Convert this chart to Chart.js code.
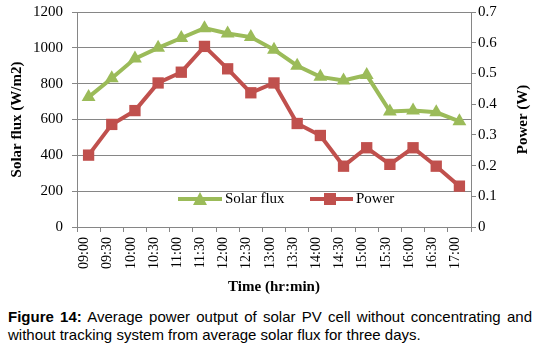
<!DOCTYPE html>
<html>
<head>
<meta charset="utf-8">
<script src="https://cdn.jsdelivr.net/npm/chart.js@4"></script>
<style>
  html, body { margin: 0; padding: 0; background: #fff; }
  #wrap { position: relative; width: 536px; height: 348px; }
  #chart-box { position: absolute; left: 0; top: 0; width: 536px; height: 300px; }
  #caption {
    position: absolute; left: 8px; top: 308px; width: 524px;
    font-family: "Liberation Sans", Arial, sans-serif; font-size: 15px;
    line-height: 18px; color: #000; text-align: justify;
  }
</style>
</head>
<body>
<div id="wrap">
  <div id="chart-box"><canvas id="chart" width="536" height="300"></canvas></div>
  <div id="caption"><b>Figure 14:</b> Average power output of solar PV cell without concentrating and without tracking system from average solar flux for three days.</div>
</div>
<script>
// data
const times = ["09:00", "09:30", "10:00", "10:30", "11:00", "11:30", "12:00", "12:30", "13:00",
  "13:30", "14:00", "14:30", "15:00", "15:30", "16:00", "16:30", "17:00"];
const solarFlux = [725, 830, 940, 1000, 1055, 1110, 1080, 1060, 990, 900, 838, 818, 848, 645, 650, 640, 590];
const power = [0.234, 0.334, 0.379, 0.469, 0.504, 0.588, 0.515, 0.437, 0.469, 0.337, 0.298, 0.198, 0.258, 0.204, 0.258, 0.198, 0.133];
const fluxTicks = [0, 200, 400, 600, 800, 1000, 1200];
const powerTicks = [0, 0.1, 0.2, 0.3, 0.4, 0.5, 0.6, 0.7];

const green = "#9BBB59";
const red = "#C0504D";
const serif = "'Liberation Serif', 'Times New Roman', serif";

// legend inside the plot + right axis title (reads bottom to top)
const extras = {
  id: "extras",
  afterDraw(chart) {
    const ctx = chart.ctx;
    const area = chart.chartArea;
    const ly = area.top + 187;
    ctx.save();
    // solar flux entry
    ctx.strokeStyle = green;
    ctx.lineWidth = 4;
    ctx.beginPath(); ctx.moveTo(178, ly); ctx.lineTo(222, ly); ctx.stroke();
    ctx.fillStyle = green;
    ctx.beginPath(); ctx.moveTo(200, ly - 7); ctx.lineTo(207, ly + 6); ctx.lineTo(193, ly + 6); ctx.closePath(); ctx.fill();
    // power entry
    ctx.strokeStyle = red;
    ctx.beginPath(); ctx.moveTo(310, ly); ctx.lineTo(353, ly); ctx.stroke();
    ctx.fillStyle = red;
    ctx.fillRect(324, ly - 6, 12, 12);
    ctx.fillStyle = "#000";
    ctx.font = "15px " + serif;
    ctx.textBaseline = "middle";
    ctx.textAlign = "left";
    ctx.fillText("Solar flux", 225, ly);
    ctx.fillText("Power", 356, ly);
    // right title
    ctx.translate(523, (area.top + area.bottom) / 2);
    ctx.rotate(-Math.PI / 2);
    ctx.textAlign = "center";
    ctx.font = "bold 15px " + serif;
    ctx.fillText("Power (W)", 0, 0);
    ctx.restore();
  }
};

new Chart(document.getElementById("chart"), {
  type: "line",
  data: {
    labels: times,
    datasets: [
      {
        label: "Solar flux",
        data: solarFlux,
        yAxisID: "y",
        borderColor: green,
        backgroundColor: green,
        borderWidth: 4,
        pointStyle: "triangle",
        pointRadius: 8,
        pointHoverRadius: 8,
        pointBorderWidth: 0,
        tension: 0
      },
      {
        label: "Power",
        data: power,
        yAxisID: "y1",
        borderColor: red,
        backgroundColor: red,
        borderWidth: 4,
        pointStyle: "rect",
        pointRadius: 8,
        pointHoverRadius: 8,
        pointBorderWidth: 0,
        tension: 0
      }
    ]
  },
  options: {
    responsive: false,
    animation: false,
    layout: { padding: { top: 12, left: 0, right: 0, bottom: 0 } },
    plugins: {
      legend: { display: false },
      tooltip: { enabled: false }
    },
    scales: {
      x: {
        offset: true,
        grid: { offset: true, drawOnChartArea: false, color: "#868686", tickLength: 5 },
        border: { color: "#868686" },
        ticks: {
          minRotation: 90, maxRotation: 90, padding: 5, labelOffset: -4,
          color: "#000", font: { family: serif, size: 14 }
        },
        title: {
          display: true, text: "Time (hr:min)", color: "#000",
          font: { family: serif, size: 15, weight: "bold" }, padding: { top: 8 }
        },
        afterFit(s) { s.height = 73; }
      },
      y: {
        position: "left",
        min: 0, max: 1200,
        afterBuildTicks(s) { s.ticks = fluxTicks.map(v => ({ value: v })); },
        grid: { color: "#868686", tickLength: 5 },
        border: { color: "#868686" },
        ticks: {
          color: "#000", padding: 9, font: { family: serif, size: 15, lineHeight: 0.4 },
          callback: v => String(v)
        },
        title: {
          display: true, text: "Solar flux (W/m2)", color: "#000",
          font: { family: serif, size: 15, weight: "bold" }, padding: { top: 8, bottom: 0 }
        },
        afterFit(s) { s.width = 77; }
      },
      y1: {
        position: "right",
        min: 0, max: 0.7,
        afterBuildTicks(s) { s.ticks = powerTicks.map(v => ({ value: v })); },
        grid: { drawOnChartArea: false, color: "#868686", tickLength: 5 },
        border: { color: "#868686" },
        ticks: {
          color: "#000", padding: 2, font: { family: serif, size: 15, lineHeight: 0.4 },
          callback: v => String(v)
        },
        afterFit(s) { s.width = 65; }
      }
    }
  },
  plugins: [extras]
});
</script>
</body>
</html>
